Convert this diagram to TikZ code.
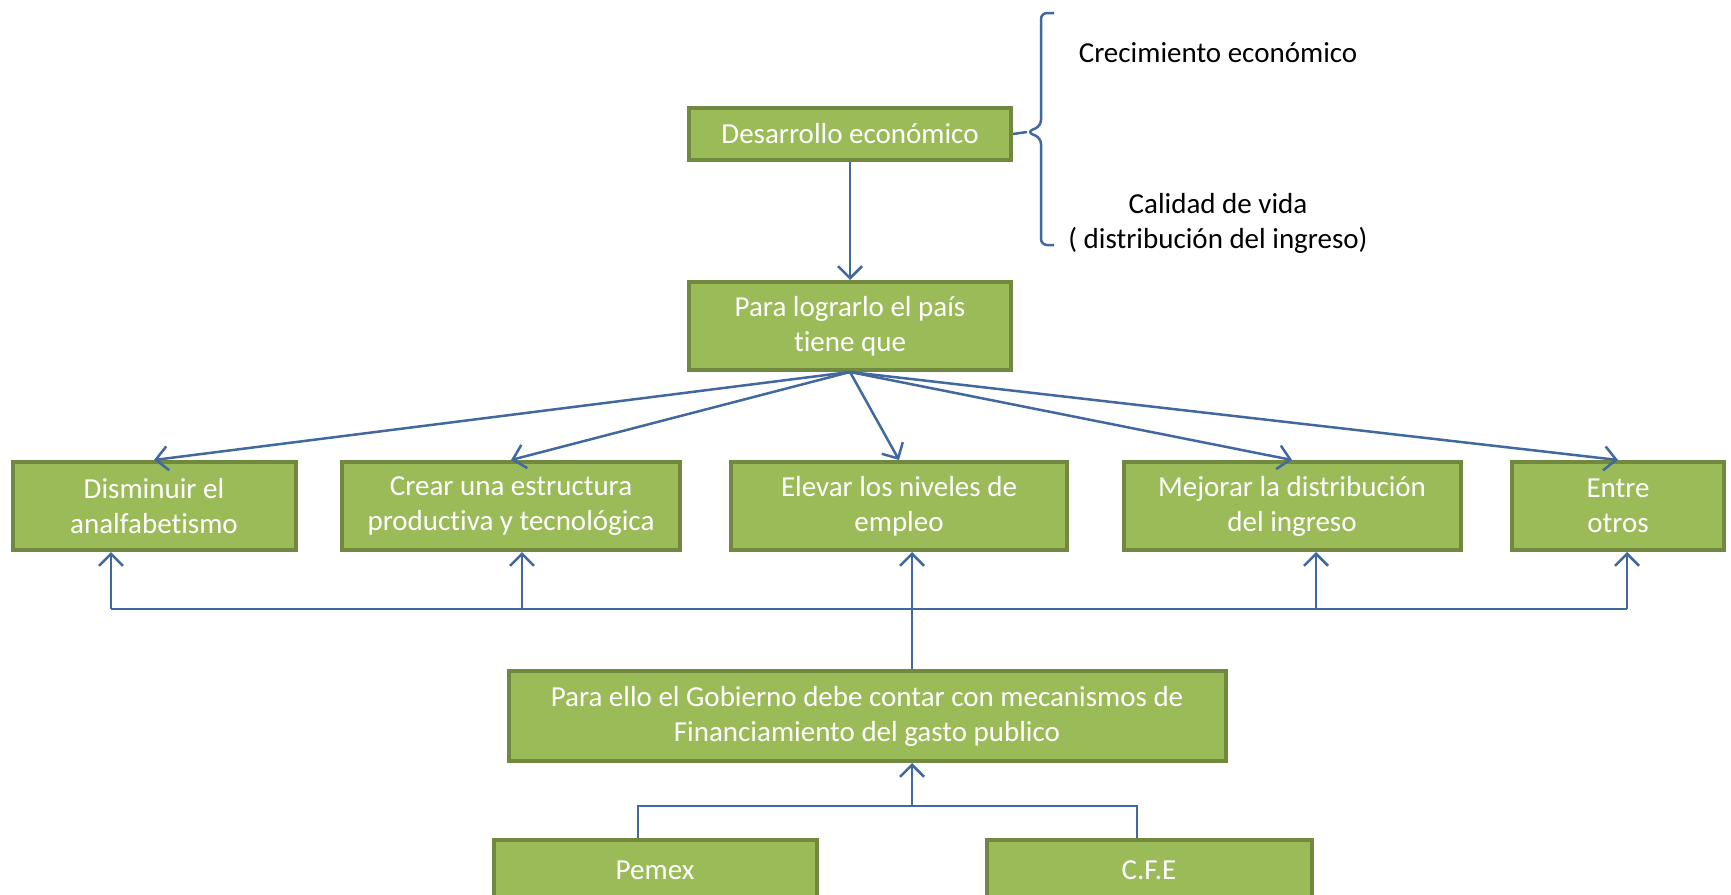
\documentclass[tikz,border=0pt]{standalone}
\usepackage{fontspec}
\setmainfont{Carlito}[RawFeature={-liga;-clig;-dlig}]
\usetikzlibrary{arrows.meta}
\definecolor{boxfill}{HTML}{9BBB59}
\definecolor{boxedge}{HTML}{71893F}
\definecolor{linkblue}{HTML}{41699F}
\begin{document}
\begin{tikzpicture}[
x=1pt,y=-1pt,
every node/.style={font=\fontsize{29}{35}\selectfont},
box/.style={rectangle,draw=boxedge,fill=boxfill,line width=4pt,text=white,align=center,inner sep=0pt},
link/.style={draw=linkblue,line width=2.5pt},
arr/.style={link,-{Straight Barb[length=12pt,width=24pt,line width=2.5pt]}},
]
\clip (0,0) rectangle (1731,894);
\fill[white] (0,0) rectangle (1731,894);

\node[box,minimum width=322,minimum height=52] (des) at (850,134) {Desarrollo económico};
\node[box,minimum width=322,minimum height=88] (log) at (850,326) {Para lograrlo el país\\tiene que};

\node[box,minimum width=283,minimum height=88] (dis) at (154,506) {Disminuir el\\analfabetismo};
\node[box,minimum width=338,minimum height=88] (cre) at (511,506) {Crear una estructura\\productiva y tecnológica};
\node[box,minimum width=336,minimum height=88] (ele) at (899,506) {Elevar los niveles de\\empleo};
\node[box,minimum width=337,minimum height=88] (mej) at (1292,506) {Mejorar la distribución\\del ingreso};
\node[box,minimum width=212,minimum height=88] (ent) at (1618,506) {Entre\\otros};

\node[box,minimum width=717,minimum height=90] (par) at (867,716) {Para ello el Gobierno debe contar con mecanismos de\\Financiamiento del gasto publico};

\node[box,minimum width=323,minimum height=60] (pem) at (655,870) {Pemex};
\node[box,minimum width=325,minimum height=60] (cfe) at (1149,870) {C.F.E};

\node (cre2) at (1218,53) {Crecimiento económico};
\node[align=center] (cal) at (1218,223) {Calidad de vida\\( distribución del ingreso)};

\draw[link,rounded corners=6pt] (1054,13) -- (1041,13) -- (1041,126) -- (1027,132)
  -- (1041,138) -- (1041,245) -- (1054,245);
\coordinate (tip) at (1027,132);
\draw[link] (des.east) -- (tip);

\draw[arr] (des.south) -- (log.north);
\foreach \t in {dis,cre,ele,mej,ent}
  \draw[arr] (log.south) -- (\t.north);

\coordinate (b1) at (111,609);
\coordinate (b2) at (522,609);
\coordinate (b3) at (912,609);
\coordinate (b4) at (1316,609);
\coordinate (b5) at (1627,609);
\draw[link] (b1) -- (b5);
\draw[arr] (b1) -- (b1 |- dis.south);
\draw[arr] (b2) -- (b2 |- cre.south);
\draw[arr] (par.north -| b3) -- (b3 |- ele.south);
\draw[arr] (b4) -- (b4 |- mej.south);
\draw[arr] (b5) -- (b5 |- ent.south);

\coordinate (j0) at (912,806);
\coordinate (j1) at (638,806);
\coordinate (j2) at (1137,806);
\draw[link] (j1 |- pem.north) -- (j1) -- (j2) -- (j2 |- cfe.north);
\draw[arr] (j0) -- (j0 |- par.south);
\end{tikzpicture}
\end{document}
